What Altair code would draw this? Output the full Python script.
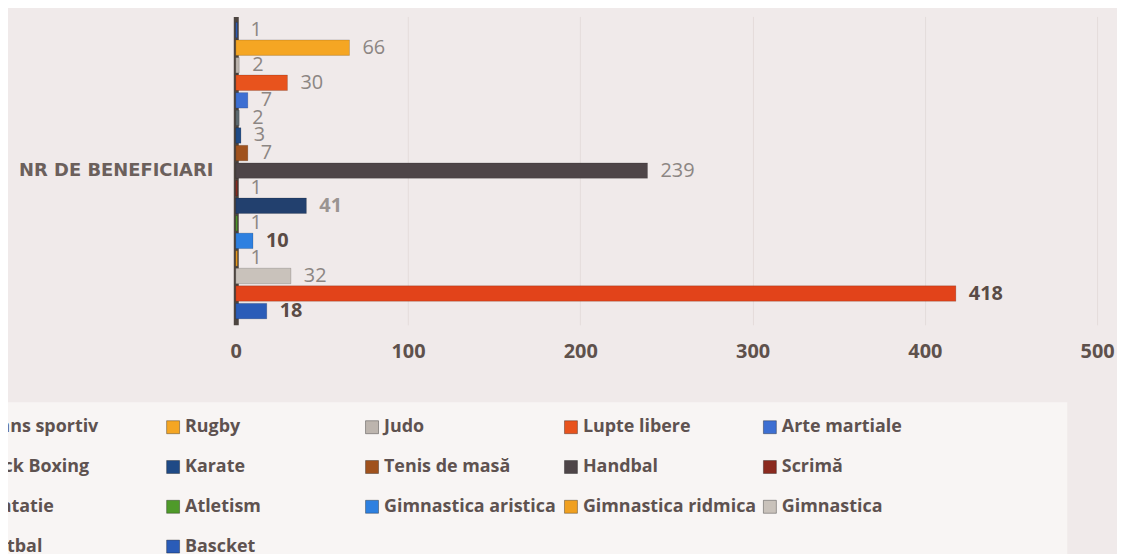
import altair as alt
import pandas as pd

category = "NR DE BENEFICIARI"
sports = ["Dans sportiv", "Rugby", "Judo", "Lupte libere", "Arte martiale",
          "Kick Boxing", "Karate", "Tenis de masă", "Handbal", "Scrimă",
          "Natatie", "Atletism", "Gimnastica aristica", "Gimnastica ridmica",
          "Gimnastica", "Fotbal", "Bascket"]
values = [1, 66, 2, 30, 7, 2, 3, 7, 239, 1, 41, 1, 10, 1, 32, 418, 18]
x_ticks = [0, 100, 200, 300, 400, 500]

colors = ["#2f5fb8", "#f5a623", "#bdb5ae", "#e8531d", "#3d6fd2",
          "#5d6a70", "#1f4a86", "#a0521d", "#4e4548", "#8b2a1f",
          "#22406e", "#4f9a2a", "#2e80e0", "#f0a020", "#c9c2bb",
          "#e2431a", "#2a5cb8"]

bold_dark = ["Gimnastica aristica", "Fotbal", "Bascket"]
bold_gray = ["Natatie"]

df = pd.DataFrame({"cat": [category] * len(sports), "sport": sports, "value": values})

FONT = "Open Sans"

y_enc = alt.Y("cat:N", title=None,
              scale=alt.Scale(paddingInner=0, paddingOuter=0.02),
              axis=alt.Axis(labelFont="DejaVu Sans", labelFontSize=18, labelFontWeight="bold",
                            labelColor="#6b605c", labelPadding=23, ticks=False,
                            labelLimit=300,
                            domainColor="#4d4540", domainWidth=5))
yoff = alt.YOffset("sport:N", sort=sports, scale=alt.Scale(paddingInner=0.12))

# legend background panel (decoration only)
panel = alt.Chart(pd.DataFrame({"p": [0]})).mark_rect(color="#f8f5f4").encode(
    x=alt.value(-300), x2=alt.value(836), y=alt.value(388), y2=alt.value(570))

base = alt.Chart(df)

bars = base.mark_bar(stroke="#00000033", strokeWidth=0.8).encode(
    x=alt.X("value:Q", title=None,
            scale=alt.Scale(domain=[0, 500], nice=False),
            axis=alt.Axis(values=x_ticks, labelFont=FONT, labelFontSize=20,
                          labelFontWeight="bold", labelColor="#5e514c",
                          labelPadding=17, labelFlush=False, ticks=False, domain=False,
                          grid=True, gridColor="#e4dcdb", gridWidth=1)),
    y=y_enc,
    yOffset=yoff,
    color=alt.Color("sport:N", sort=sports,
                    scale=alt.Scale(domain=sports, range=colors),
                    legend=alt.Legend(orient="none", legendX=-282, legendY=394,
                                      direction="horizontal", columns=5,
                                      gridAlign="all", title=None,
                                      symbolType="square", symbolSize=170,
                                      symbolStrokeColor="#00000055", symbolStrokeWidth=1,
                                      labelFont=FONT, labelFontSize=18,
                                      labelFontWeight="bold", labelColor="#5e5250",
                                      labelLimit=400, labelOffset=3,
                                      columnPadding=4, rowPadding=22, padding=10)),
)

def value_labels(filt, weight, color):
    return base.transform_filter(filt).mark_text(
        align="left", baseline="middle", dx=13, font=FONT, fontSize=20,
        fontWeight=weight, color=color).encode(
        x="value:Q", y=alt.Y("cat:N"), yOffset=yoff, text="value:Q")

labels_regular = value_labels(
    ~alt.FieldOneOfPredicate(field="sport", oneOf=bold_dark + bold_gray), "normal", "#8c8683")
labels_bold_gray = value_labels(
    alt.FieldOneOfPredicate(field="sport", oneOf=bold_gray), "bold", "#9a9491")
labels_bold_dark = value_labels(
    alt.FieldOneOfPredicate(field="sport", oneOf=bold_dark), "bold", "#5a4b45")

chart = alt.layer(panel, bars, labels_regular, labels_bold_gray, labels_bold_dark).properties(
    width=866, height=310,
    autosize=alt.AutoSizeParams(type="none"),
    padding={"left": 229, "top": 7, "right": 20, "bottom": 232},
    background="#f0eaea",
).configure_view(stroke=None)

chart.save("out.html", embed_options={"renderer": "svg", "actions": False})
